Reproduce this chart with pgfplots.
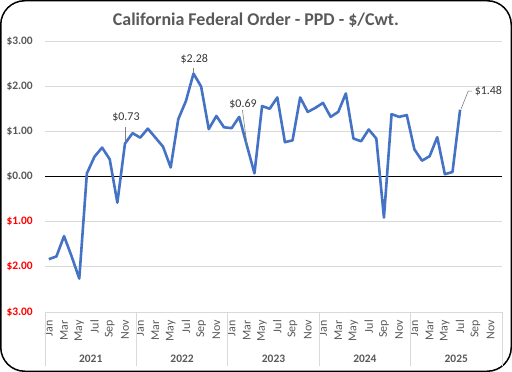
\documentclass[border=0pt]{standalone}
\usepackage{pgfplots}
\pgfplotsset{compat=1.18}
\usepackage{fontspec}
\setmainfont{Carlito}
\definecolor{txt}{RGB}{89,89,89}
\definecolor{lbl}{RGB}{55,55,55}
\definecolor{lineblue}{RGB}{68,114,196}
\definecolor{gridc}{RGB}{217,217,217}
\definecolor{negred}{RGB}{255,0,0}
\begin{document}
\begin{tikzpicture}
\draw[line width=1.5bp, rounded corners=24bp, fill=white] (0.75bp,0.75bp) rectangle (511.25bp,371.25bp);
\node[font=\fontsize{18}{20}\selectfont\bfseries, text=txt] at (256bp,352bp) {California Federal Order - PPD - \$/Cwt.};
\begin{axis}[
  at={(45bp,60bp)}, anchor=south west, scale only axis,
  width=457bp, height=271bp,
  xmin=-0.5, xmax=59.5, ymin=-3, ymax=3,
  axis line style={draw=none},
  major tick length=0pt,
  ytick={-3,-2,-1,0,1,2,3},
  yticklabels={{\color{negred}\$3.00},{\color{negred}\$2.00},{\color{negred}\$1.00},\$0.00,\$1.00,\$2.00,\$3.00},
  yticklabel style={font=\fontsize{11.5}{13}\selectfont\bfseries, text=txt, inner sep=0pt, anchor=east},
  yticklabel shift=12bp,
  ymajorgrids, major grid style={draw=gridc, line width=0.8bp},
  xtick={0,2,...,58},
  xticklabels={Jan,Mar,May,Jul,Sep,Nov,Jan,Mar,May,Jul,Sep,Nov,Jan,Mar,May,Jul,Sep,Nov,Jan,Mar,May,Jul,Sep,Nov,Jan,Mar,May,Jul,Sep,Nov},
  xticklabel style={font=\fontsize{12}{14}\selectfont, text=txt, inner sep=0pt, rotate=90, anchor=east},
  xticklabel shift=8bp,
  clip=false,
]
\draw[black, line width=1bp] (axis cs:-0.5,0) -- (axis cs:59.5,0);
\draw[gridc, line width=0.8bp] (axis cs:-0.5,-3) -- ([yshift=-54bp]axis cs:-0.5,-3);
\draw[gridc, line width=0.8bp] (axis cs:11.5,-3) -- ([yshift=-54bp]axis cs:11.5,-3);
\draw[gridc, line width=0.8bp] (axis cs:23.5,-3) -- ([yshift=-54bp]axis cs:23.5,-3);
\draw[gridc, line width=0.8bp] (axis cs:35.5,-3) -- ([yshift=-54bp]axis cs:35.5,-3);
\draw[gridc, line width=0.8bp] (axis cs:47.5,-3) -- ([yshift=-54bp]axis cs:47.5,-3);
\draw[gridc, line width=0.8bp] (axis cs:59.5,-3) -- ([yshift=-54bp]axis cs:59.5,-3);
\node[font=\fontsize{11.5}{13}\selectfont\bfseries, text=txt] at ([yshift=-47bp]axis cs:5.5,-3) {2021};
\node[font=\fontsize{11.5}{13}\selectfont\bfseries, text=txt] at ([yshift=-47bp]axis cs:17.5,-3) {2022};
\node[font=\fontsize{11.5}{13}\selectfont\bfseries, text=txt] at ([yshift=-47bp]axis cs:29.5,-3) {2023};
\node[font=\fontsize{11.5}{13}\selectfont\bfseries, text=txt] at ([yshift=-47bp]axis cs:41.5,-3) {2024};
\node[font=\fontsize{11.5}{13}\selectfont\bfseries, text=txt] at ([yshift=-47bp]axis cs:53.5,-3) {2025};
\addplot[lineblue, line width=2.6bp, line join=round, mark=none] coordinates {
(0,-1.83) (1,-1.77) (2,-1.32) (3,-1.77) (4,-2.26) (5,0.07) (6,0.44) (7,0.64) (8,0.38) (9,-0.58)
(10,0.73) (11,0.96) (12,0.86) (13,1.06) (14,0.86) (15,0.66) (16,0.20) (17,1.27) (18,1.67) (19,2.28)
(20,1.99) (21,1.05) (22,1.34) (23,1.09) (24,1.07) (25,1.32) (26,0.69) (27,0.07) (28,1.56) (29,1.50)
(30,1.75) (31,0.76) (32,0.80) (33,1.75) (34,1.43) (35,1.52) (36,1.63) (37,1.32) (38,1.43) (39,1.84)
(40,0.84) (41,0.78) (42,1.04) (43,0.84) (44,-0.91) (45,1.38) (46,1.32) (47,1.36) (48,0.60) (49,0.35)
(50,0.45) (51,0.87) (52,0.05) (53,0.10) (54,1.48)
};
\draw[gray, line width=0.6bp] (axis cs:10,0.77) -- (axis cs:10,1.10);
\node[font=\fontsize{12}{14}\selectfont, text=lbl] at (axis cs:10.13,1.30) {\$0.73};
\draw[gray, line width=0.6bp] (axis cs:19,2.30) -- (axis cs:19,2.40);
\node[font=\fontsize{12}{14}\selectfont, text=lbl] at (axis cs:19.1,2.61) {\$2.28};
\draw[gray, line width=0.6bp] (axis cs:26.02,0.70) -- (axis cs:25.42,1.47);
\node[font=\fontsize{12}{14}\selectfont, text=lbl] at (axis cs:25.5,1.60) {\$0.69};
\draw[gray, line width=0.6bp] (axis cs:54.14,1.50) -- (axis cs:55.06,1.89) -- (axis cs:55.58,1.89);
\node[font=\fontsize{12}{14}\selectfont, text=lbl, anchor=west, inner sep=0pt] at (axis cs:55.9,1.89) {\$1.48};
\end{axis}
\end{tikzpicture}
\end{document}
